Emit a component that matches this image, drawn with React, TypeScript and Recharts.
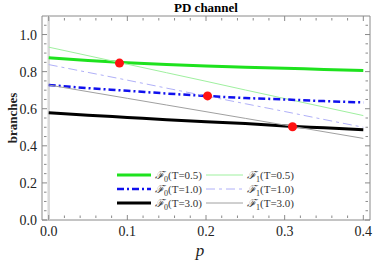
import React from "react";
import {
  ComposedChart,
  Line,
  Scatter,
  XAxis,
  YAxis,
  ReferenceLine,
  ReferenceArea,
} from "recharts";

// values
const pValues = [0, 0.05, 0.1, 0.15, 0.2, 0.25, 0.3, 0.35, 0.4];
const f0T05 = [0.875, 0.86, 0.848, 0.838, 0.83, 0.824, 0.818, 0.812, 0.806];
const f1T05 = [0.932, 0.886, 0.84, 0.794, 0.748, 0.701, 0.655, 0.609, 0.563];
const f0T10 = [0.728, 0.711, 0.697, 0.682, 0.669, 0.658, 0.65, 0.641, 0.634];
const f1T10 = [0.838, 0.796, 0.754, 0.711, 0.669, 0.627, 0.585, 0.542, 0.5];
const f0T30 = [0.578, 0.565, 0.553, 0.541, 0.53, 0.52, 0.507, 0.497, 0.487];
const f1T30 = [0.728, 0.692, 0.656, 0.62, 0.584, 0.548, 0.512, 0.476, 0.44];

const crossP = [0.09, 0.202, 0.31];
const crossB = [0.846, 0.669, 0.503];

const xMajor = [0, 0.1, 0.2, 0.3, 0.4];
const xMinor = [0.02, 0.04, 0.06, 0.08, 0.12, 0.14, 0.16, 0.18, 0.22, 0.24, 0.26, 0.28, 0.32, 0.34, 0.36, 0.38];
const yMajor = [0, 0.2, 0.4, 0.6, 0.8, 1.0];
const yMinor = [0.05, 0.1, 0.15, 0.25, 0.3, 0.35, 0.45, 0.5, 0.55, 0.65, 0.7, 0.75, 0.85, 0.9, 0.95, 1.05];

const data = pValues.map((p, i) => ({
  p,
  f0a: f0T05[i],
  f1a: f1T05[i],
  f0b: f0T10[i],
  f1b: f1T10[i],
  f0c: f0T30[i],
  f1c: f1T30[i],
}));

const dots = crossP.map((p, i) => ({ p, b: crossB[i] }));

const xDomain = [-0.0085, 0.4085];
const yDomain = [0, 1.1];
const FONT = "Liberation Serif";
const FRAME = "#8a8a8a";

const series = [
  { key: "f0a", sub: "0", T: "0.5", color: "#1ee21e", width: 3, dash: undefined },
  { key: "f1a", sub: "1", T: "0.5", color: "#9ff09f", width: 1, dash: undefined },
  { key: "f0b", sub: "0", T: "1.0", color: "#1010ee", width: 2.5, dash: "7 3 2 3" },
  { key: "f1b", sub: "1", T: "1.0", color: "#b0b0f8", width: 1, dash: "9 4 3 4" },
  { key: "f0c", sub: "0", T: "3.0", color: "#000000", width: 3, dash: undefined },
  { key: "f1c", sub: "1", T: "3.0", color: "#a0a0a0", width: 1, dash: undefined },
];

function LegendBox() {
  const rows = [0, 2, 4];
  return (
    <div style={{ position: "absolute", left: 117, top: 168, fontFamily: FONT, fontSize: 11, color: "#333" }}>
      {rows.map((r) => (
        <div key={r} style={{ display: "flex", height: 14, alignItems: "center" }}>
          {[series[r], series[r + 1]].map((s, j) => (
            <div key={s.key} style={{ display: "flex", alignItems: "center", width: j === 0 ? 89 : 92 }}>
              <svg width={j === 0 ? 36 : 39} height={8} style={{ marginRight: 2 }}>
                <line x1={0} y1={4} x2={j === 0 ? 34 : 37} y2={4} stroke={s.color} strokeWidth={s.width} strokeDasharray={s.dash} />
              </svg>
              <span style={{ whiteSpace: "nowrap", lineHeight: "14px" }}>
                <span style={{ fontStyle: "italic" }}>ℱ</span>
                <sub style={{ fontSize: 8, lineHeight: 0 }}>{s.sub}</sub>(T={s.T})
              </span>
            </div>
          ))}
        </div>
      ))}
    </div>
  );
}

const renderXTick = (props: any) => (
  <text x={props.x} y={props.y} dy={6} textAnchor="middle" fontFamily={FONT} fontSize={14} fill="#222">
    {Number(props.payload.value).toFixed(1)}
  </text>
);

const renderYTick = (props: any) => (
  <text x={props.x + 5} y={props.y} dy={5} textAnchor="end" fontFamily={FONT} fontSize={14} fill="#222">
    {Number(props.payload.value).toFixed(1)}
  </text>
);

const noLabel = () => "";

export default function App() {
  return (
    <div style={{ position: "absolute", left: 0, top: 0, width: 374, height: 263, background: "#fff" }}>
      <div
        style={{
          position: "absolute",
          left: 42,
          width: 328,
          top: 0,
          textAlign: "center",
          fontFamily: FONT,
          fontWeight: "bold",
          fontSize: 13,
          lineHeight: "15px",
        }}
      >
        PD channel
      </div>
      <ComposedChart width={374} height={263} data={data} margin={{ top: 16, right: 4, left: 0, bottom: 0 }}>
        <XAxis
          dataKey="p"
          type="number"
          domain={xDomain}
          ticks={xMajor}
          allowDataOverflow
          height={43}
          tick={renderXTick}
          tickLine={false}
          axisLine={false}
          tickMargin={4}
          label={{ value: "p", position: "insideBottom", offset: 7, dx: -6, fontFamily: FONT, fontStyle: "italic", fontSize: 17, fill: "#222" }}
        />
        <XAxis xAxisId="bMaj" type="number" dataKey="p" domain={xDomain} ticks={xMajor} allowDataOverflow mirror height={2} tickFormatter={noLabel} tickSize={5} axisLine={false} tickLine={{ stroke: FRAME }} />
        <XAxis xAxisId="bMin" type="number" dataKey="p" domain={xDomain} ticks={xMinor} allowDataOverflow mirror height={2} tickFormatter={noLabel} tickSize={2.5} axisLine={false} tickLine={{ stroke: FRAME }} />
        <XAxis xAxisId="tMaj" orientation="top" type="number" dataKey="p" domain={xDomain} ticks={xMajor} allowDataOverflow mirror height={2} tickFormatter={noLabel} tickSize={5} axisLine={false} tickLine={{ stroke: FRAME }} />
        <XAxis xAxisId="tMin" orientation="top" type="number" dataKey="p" domain={xDomain} ticks={xMinor} allowDataOverflow mirror height={2} tickFormatter={noLabel} tickSize={2.5} axisLine={false} tickLine={{ stroke: FRAME }} />
        <YAxis
          type="number"
          domain={yDomain}
          ticks={yMajor}
          allowDataOverflow
          width={42}
          tick={renderYTick}
          tickLine={false}
          axisLine={false}
          tickMargin={4}
          label={{ value: "branches", angle: -90, position: "insideLeft", offset: 12, fontFamily: FONT, fontWeight: "bold", fontSize: 13, fill: "#222", style: { textAnchor: "middle" } }}
        />
        <YAxis yAxisId="lMaj" type="number" domain={yDomain} ticks={yMajor} allowDataOverflow mirror width={2} tickFormatter={noLabel} tickSize={5} axisLine={false} tickLine={{ stroke: FRAME }} />
        <YAxis yAxisId="lMin" type="number" domain={yDomain} ticks={yMinor} allowDataOverflow mirror width={2} tickFormatter={noLabel} tickSize={2.5} axisLine={false} tickLine={{ stroke: FRAME }} />
        <YAxis yAxisId="rMaj" orientation="right" type="number" domain={yDomain} ticks={yMajor} allowDataOverflow mirror width={2} tickFormatter={noLabel} tickSize={5} axisLine={false} tickLine={{ stroke: FRAME }} />
        <YAxis yAxisId="rMin" orientation="right" type="number" domain={yDomain} ticks={yMinor} allowDataOverflow mirror width={2} tickFormatter={noLabel} tickSize={2.5} axisLine={false} tickLine={{ stroke: FRAME }} />
        <ReferenceArea x1={xDomain[0]} x2={xDomain[1]} y1={yDomain[0]} y2={yDomain[1]} fill="none" stroke={FRAME} strokeWidth={1} ifOverflow="visible" />
        <ReferenceLine x={0} stroke="#d9d9d9" strokeWidth={2.5} />
        {series.map((s) => (
          <Line
            key={s.key}
            dataKey={s.key}
            type="monotone"
            stroke={s.color}
            strokeWidth={s.width}
            strokeDasharray={s.dash}
            dot={false}
            activeDot={false}
            isAnimationActive={false}
          />
        ))}
        <Scatter data={dots} dataKey="b" fill="#ff1111" shape="circle" isAnimationActive={false} />
      </ComposedChart>
      <LegendBox />
    </div>
  );
}
